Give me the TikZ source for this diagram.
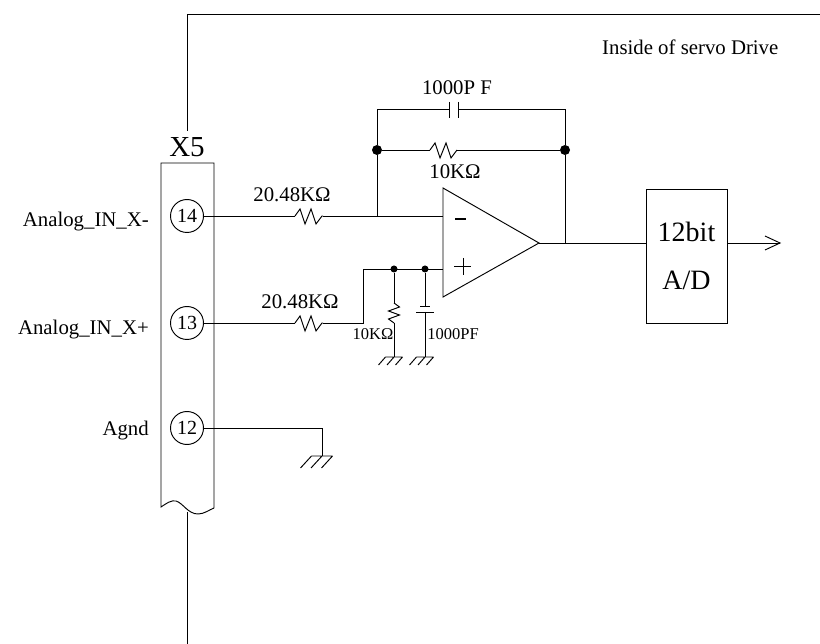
\documentclass[tikz,border=0pt]{standalone}
\usepackage{fontspec}
\setmainfont{Liberation Serif}
\tikzset{
  wire/.style={line width=0.95pt},
  pin/.style={draw, circle, line width=0.95pt, minimum size=33pt, inner sep=0pt, font=\fontsize{20}{22}\selectfont},
  lab/.style={inner sep=0pt, font=\fontsize{20.8}{24}\selectfont},
  smalllab/.style={inner sep=0pt, font=\fontsize{16.5}{20}\selectfont},
  dot/.style={circle, fill=black, inner sep=0pt, minimum size=#1}
}
% Resistor and ground symbols, drawn from a named coordinate
\newcommand{\hres}[2]{\draw[wire] (#1) -- ++(5,-7) -- ++(5,15) -- ++(6,-15) -- ++(5,15) -- ++(6,-8) -- (#2);}
\newcommand{\vres}[2]{\draw[wire] (#1) -- ++(5.5,4) -- ++(-11,4) -- ++(11,4) -- ++(-11,4) -- ++(5.5,4) -- (#2);}
% half width of the bar, then the run of the slants
\newcommand{\gnd}[3]{\draw[wire] (#1) ++(-#2,0) -- ++(2*#2,0)
  (#1) ++(-#2,0) -- ++(-#3,#3+1) (#1) -- ++(-#3,#3+1) (#1) ++(#2,0) -- ++(-#3,#3+1);}
\begin{document}
\begin{tikzpicture}[x=1pt, y=-1pt]
\useasboundingbox (0,0) rectangle (820,644);

% Frame of the drive
\coordinate (frameA) at (187,131);
\coordinate (frameB) at (187,14);
\coordinate (frameC) at (820,14);
\coordinate (frameD) at (187,512);
\coordinate (frameE) at (187,644);
\draw[wire] (frameA) -- (frameB) -- (frameC);
\draw[wire] (frameD) -- (frameE);
\node[lab, anchor=west] (inside) at (602,47) {Inside of servo Drive};

% Connector X5
\draw[wire] (214,508) -- (214,163) -- (161,163) -- (161,507)
  .. controls (167,503) and (171,500) .. (176,501)
  .. controls (183,503) and (188,514) .. (198,514)
  .. controls (204,514) and (209,510) .. (214,508);
\node[font=\fontsize{29}{32}\selectfont, inner sep=0pt] (xfive) at (187,147) {X5};
\node[pin] (pin14) at (187,216) {14};
\node[pin] (pin13) at (187,323) {13};
\node[pin] (pin12) at (187,428) {12};
\node[lab, anchor=east] (labA) at (149,222) {Analog\_IN\_X-};
\node[lab, anchor=east] (labB) at (149,330) {Analog\_IN\_X+};
\node[lab, anchor=east] (labC) at (149,431) {Agnd};

% Op amp
\coordinate (opTop) at (443,188);
\coordinate (opBot) at (443,297);
\coordinate (opTip) at (539,243);
\draw[wire] (opTop) -- (opTip) -- (opBot) -- cycle;
\draw[line width=2pt] (455,219) -- (466,219);
\draw[line width=1pt] (463,258) -- (463,275) (454,267) -- (471,267);

% Inverting input and feedback
\coordinate (rOneA) at (295,216);
\coordinate (rOneB) at (323,216);
\coordinate (nodeIn) at (377,216);
\coordinate (opMinus) at (443,216);
\coordinate (fbTopL) at (377,109);
\coordinate (fbTopR) at (565,109);
\coordinate (capL) at (449,109);
\coordinate (capR) at (458,109);
\coordinate (rFbA) at (430,150);
\coordinate (rFbB) at (457,150);
\coordinate (nodeOut) at (565,243);
\node[dot=10pt] (dotL) at (377,150) {};
\node[dot=10pt] (dotR) at (565,150) {};
\draw[wire] (pin14) -- (rOneA);
\hres{rOneA}{rOneB}
\draw[wire] (rOneB) -- (opMinus);
\draw[wire] (nodeIn) -- (dotL) -- (fbTopL) -- (capL);
\draw[wire] (capR) -- (fbTopR) -- (dotR) -- (nodeOut);
\draw[wire] (capL) ++(0,-7) -- ++(0,16);
\draw[wire] (capR) ++(0,-7) -- ++(0,16);
\draw[wire] (dotL) -- (rFbA);
\hres{rFbA}{rFbB}
\draw[wire] (rFbB) -- (dotR);
\node[lab] (labCf) at (457,88) {1000P F};
\node[lab] (labRf) at (455,172) {10KΩ};
\node[lab] (labRone) at (292,195) {20.48KΩ};

% Non inverting input
\coordinate (rTwoA) at (295,323);
\coordinate (rTwoB) at (323,323);
\coordinate (bend) at (363,323);
\coordinate (bendB) at (363,269);
\coordinate (opPlus) at (443,269);
\node[dot=7pt] (dotRg) at (394,269) {};
\node[dot=7pt] (dotCg) at (425,269) {};
\draw[wire] (pin13) -- (rTwoA);
\hres{rTwoA}{rTwoB}
\draw[wire] (rTwoB) -- (bend) -- (bendB) -- (opPlus);
\node[lab] (labRtwo) at (300,302) {20.48KΩ};

% Resistor and capacitor to ground
\coordinate (rGa) at (394,303);
\coordinate (rGb) at (394,323);
\coordinate (gndR) at (394,357);
\coordinate (capGa) at (425,306);
\coordinate (capGb) at (425,312);
\coordinate (gndC) at (425,357);
\draw[wire] (dotRg) -- (rGa);
\vres{rGa}{rGb}
\draw[wire] (rGb) -- (gndR);
\draw[wire] (dotCg) -- (capGa);
\draw[wire] (capGb) -- (gndC);
\draw[wire] (capGa) ++(-5,0) -- ++(10,0);
\draw[wire] (capGb) ++(-9,0) -- ++(18,0);
\gnd{gndR}{8.5}{7}
\gnd{gndC}{8.5}{7}
\node[smalllab] (labRg) at (373,334) {10KΩ};
\node[smalllab] (labCg) at (453,334) {1000PF};

% Agnd
\coordinate (gndCorner) at (322,428);
\coordinate (gndA) at (322,456);
\draw[wire] (pin12) -- (gndCorner) -- (gndA);
\gnd{gndA}{10.5}{11}

% A/D converter and output
\node[draw, wire, minimum width=81pt, minimum height=134pt, inner sep=0pt, align=center,
  font=\fontsize{28}{48}\selectfont] (adc) at (686.5,256) {12bit\\A/D};
\coordinate (adcIn) at (646,243);
\coordinate (adcOut) at (727,243);
\coordinate (outEnd) at (780,243);
\draw[wire] (opTip) -- (adcIn);
\draw[wire] (adcOut) -- (outEnd);
\draw[wire] (765,236) -- (outEnd) -- (765,250);
\end{tikzpicture}
\end{document}
